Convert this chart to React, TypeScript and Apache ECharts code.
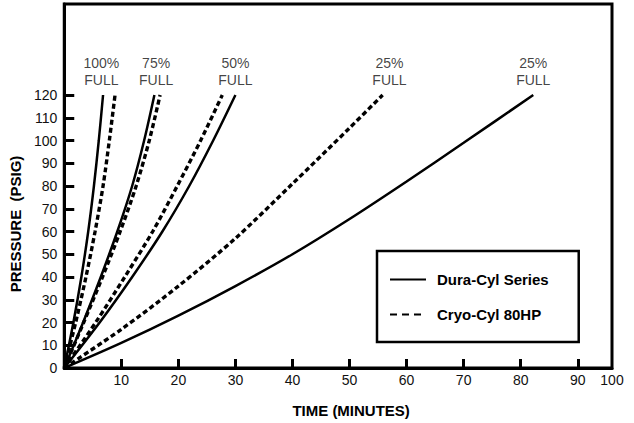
import React, { useEffect, useRef } from "react";
import * as echarts from "echarts";

// Axis ticks / labels
const xTicks = [10, 20, 30, 40, 50, 60, 70, 80, 90];
const xEdge = 96; // the right frame edge carries the "100" label in the original
const xEdgeLabel = "100";
const yTicks = [0, 10, 20, 30, 40, 50, 60, 70, 80, 90, 100, 110, 120];
const yMax = 160;

// Dura-Cyl Series (solid) : [time (min), pressure (psig)]
const duraCyl100 = [[0, 0], [1.6, 20], [3.0, 40], [4.2, 60], [5.2, 80], [6.05, 100], [6.8, 120]];
const duraCyl75 = [[0, 0], [3.3, 20], [6.4, 40], [9.3, 60], [11.9, 80], [14.0, 100], [15.8, 120]];
const duraCyl50 = [[0, 0], [6.2, 20], [11.9, 40], [17.2, 60], [21.9, 80], [26.1, 100], [30.0, 120]];
const duraCyl25 = [[0, 0], [10, 11], [20, 23], [30, 36], [40, 50], [50, 65.5], [60, 82], [70, 99], [82.2, 120]];

// Cryo-Cyl 80HP (dashed)
const cryoCyl100 = [[0, 0], [2.0, 20], [3.8, 40], [5.4, 60], [6.8, 80], [7.9, 100], [8.9, 120]];
const cryoCyl75 = [[0, 0], [3.4, 20], [6.7, 40], [9.8, 60], [12.6, 80], [14.9, 100], [16.8, 120]];
const cryoCyl50 = [[0, 0], [5.5, 20], [10.6, 40], [15.5, 60], [19.8, 80], [23.9, 100], [27.7, 120]];
const cryoCyl25 = [[0, 0], [10, 17], [20, 36], [30, 57], [40, 81], [50, 105.5], [55.8, 120]];

// Fill-level annotations
const fillLabels = ["100%\nFULL", "75%\nFULL", "50%\nFULL", "25%\nFULL", "25%\nFULL"];
const fillLabelTimes = [6.5, 16.1, 30.0, 57, 82.2];
const fillLabelPressure = 120;

const DURA = "Dura-Cyl Series";
const CRYO = "Cryo-Cyl 80HP";
const FONT = "'Liberation Sans', Arial, Helvetica, sans-serif";

export default function App() {
  const ref = useRef<HTMLDivElement>(null);

  useEffect(() => {
    if (!ref.current) return;
    const chart = echarts.init(ref.current, null, { renderer: "svg" });

    const solid = (data: number[][]) => ({
      type: "line",
      name: DURA,
      data,
      smooth: 0.3,
      symbol: "none",
      lineStyle: { color: "#000", width: 2.5, type: "solid" },
      itemStyle: { color: "#000" },
    });
    const dashed = (data: number[][]) => ({
      type: "line",
      name: CRYO,
      data,
      smooth: 0.3,
      symbol: "none",
      lineStyle: { color: "#000", width: 3.4, type: [5, 3] },
      itemStyle: { color: "#000" },
    });

    chart.setOption({
      animation: false,
      textStyle: { fontFamily: FONT },
      grid: {
        left: 59,
        right: 22,
        top: 4,
        bottom: 51,
        show: true,
        borderColor: "#000",
        borderWidth: 3,
        containLabel: false,
      },
      legend: {
        data: [
          { name: DURA, lineStyle: { width: 2, type: "solid" } },
          { name: CRYO, lineStyle: { width: 2, type: [7, 5] } },
        ],
        orient: "vertical",
        left: 377,
        top: 251,
        itemWidth: 36,
        itemHeight: 14,
        itemGap: 20,
        padding: [21, 30, 20, 12],
        borderColor: "#000",
        borderWidth: 2.5,
        backgroundColor: "#fff",
        itemStyle: { opacity: 0 },
        textStyle: {
          fontFamily: FONT,
          fontSize: 15,
          fontWeight: "bold",
          color: "#000",
          lineHeight: 14,
          padding: [0, 0, 0, 6],
        },
      },
      xAxis: {
        type: "value",
        min: 0,
        max: xEdge,
        interval: 10,
        name: "TIME (MINUTES)",
        nameLocation: "middle",
        nameGap: 35,
        nameTextStyle: {
          fontFamily: FONT,
          fontSize: 15,
          fontWeight: "bold",
          color: "#000",
          padding: [0, 0, 0, 26],
        },
        splitLine: { show: false },
        axisLine: { show: true, lineStyle: { color: "#000", width: 3 } },
        axisTick: {
          show: true,
          inside: true,
          length: 9,
          customValues: xTicks,
          lineStyle: { color: "#000", width: 3 },
        },
        axisLabel: {
          customValues: [...xTicks, xEdge],
          formatter: (v: number) => (v === xEdge ? xEdgeLabel : String(v)),
          fontFamily: FONT,
          fontSize: 14,
          color: "#111",
          margin: 5,
        },
      },
      yAxis: {
        type: "value",
        min: 0,
        max: yMax,
        interval: 10,
        name: "PRESSURE  (PSIG)",
        nameLocation: "middle",
        nameGap: 30,
        nameTextStyle: {
          fontFamily: FONT,
          fontSize: 15,
          fontWeight: "bold",
          color: "#000",
          padding: [0, 76, 0, 0],
        },
        splitLine: { show: false },
        axisLine: { show: true, lineStyle: { color: "#000", width: 3 } },
        axisTick: {
          show: true,
          inside: true,
          length: 10,
          customValues: yTicks,
          lineStyle: { color: "#000", width: 3 },
        },
        axisLabel: {
          customValues: yTicks,
          fontFamily: FONT,
          fontSize: 14,
          color: "#111",
          margin: 7,
        },
      },
      series: [
        solid(duraCyl100),
        solid(duraCyl75),
        solid(duraCyl50),
        solid(duraCyl25),
        dashed(cryoCyl100),
        dashed(cryoCyl75),
        dashed(cryoCyl50),
        dashed(cryoCyl25),
        {
          type: "scatter",
          name: "labels",
          symbolSize: 0,
          silent: true,
          data: fillLabels.map((t, i) => ({ name: t, value: [fillLabelTimes[i], fillLabelPressure] })),
          label: {
            show: true,
            position: "top",
            distance: 7,
            formatter: (p: any) => p.name,
            fontFamily: FONT,
            fontSize: 14,
            lineHeight: 17,
            color: "#111",
            align: "center",
          },
        },
      ],
    });

    return () => chart.dispose();
  }, []);

  return <div ref={ref} style={{ width: 634, height: 423, position: "absolute", left: 0, top: 0, background: "#fff" }} />;
}
